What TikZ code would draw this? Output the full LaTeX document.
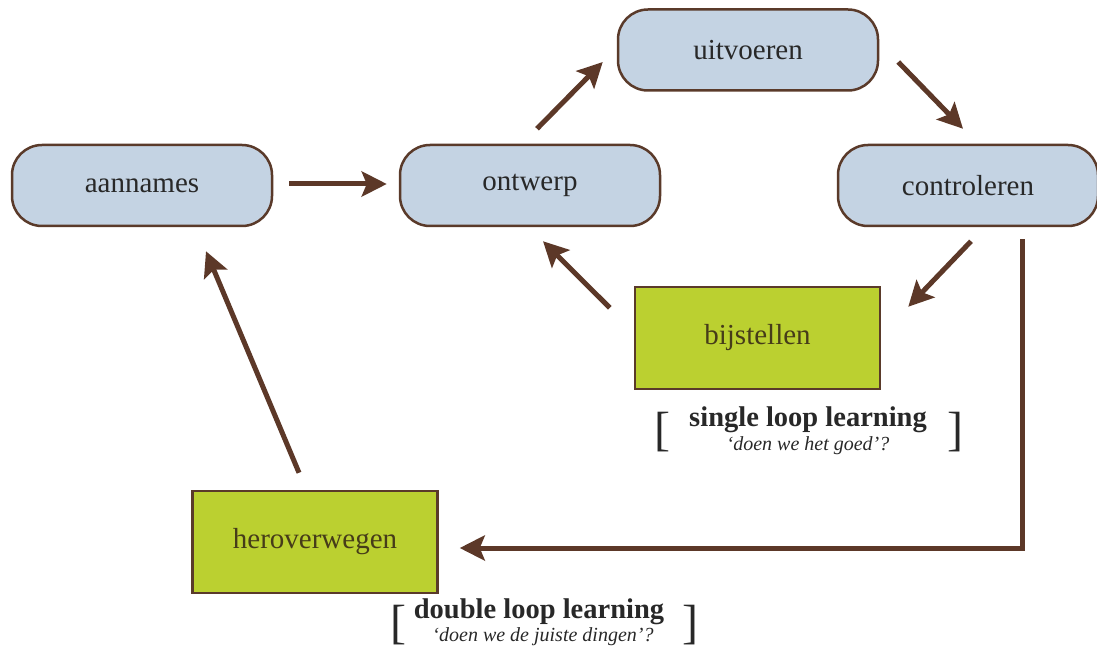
\documentclass[tikz,border=0pt]{standalone}
\usepackage{fontspec}
\setmainfont{Liberation Serif}
\usetikzlibrary{arrows.meta,calc}
\definecolor{boxblue}{RGB}{196,211,227}
\definecolor{boxgreen}{RGB}{187,208,48}
\definecolor{edgebrown}{RGB}{90,58,42}
\definecolor{arrowbrown}{RGB}{92,56,40}
\definecolor{txtgray}{RGB}{40,40,40}
\definecolor{txtolive}{RGB}{70,60,25}
\begin{document}
\begin{tikzpicture}[x=1pt,y=1pt,
  roundbox/.style={draw=edgebrown,line width=2.5pt,fill=boxblue,rounded corners=30pt,
    minimum width=260pt,minimum height=81pt,inner sep=0pt,text=txtgray,
    font=\fontsize{29}{34}\selectfont},
  greenbox/.style={draw=edgebrown,line width=2.5pt,fill=boxgreen,
    minimum width=245pt,minimum height=102pt,inner sep=0pt,text=txtolive,
    font=\fontsize{29}{34}\selectfont},
  flow/.style={draw=arrowbrown,line width=5pt,
    -{Stealth[length=25pt,width=25pt,inset=5pt]}},
  looptitle/.style={inner sep=0pt,text=txtgray,font=\bfseries\fontsize{28.5}{32}\selectfont},
  loopsub/.style={inner sep=0pt,text=txtgray,font=\itshape\fontsize{20}{24}\selectfont},
  bracket/.style={inner sep=0pt,text=txtgray,font=\fontsize{48}{52}\selectfont}]
\useasboundingbox (0,0) rectangle (1097,657);
\node[roundbox] (aannames) at (142,471.5) {aannames};
\node[roundbox] (ontwerp) at (530,471.5) {ontwerp};
\node[roundbox] (uitvoeren) at (748,607) {uitvoeren};
\node[roundbox] (controleren) at (968,471.5) {controleren};
\node[greenbox] (bijstellen) at (757.5,319) {bijstellen};
\node[greenbox] (heroverwegen) at (315,115) {heroverwegen};
% labels
\node[looptitle] (singletitle) at (808,237) {single loop learning};
\node[loopsub] (singlesub) at (808,211) {‘doen we het goed’?};
\node[bracket] (singleL) at (662,225) {[};
\node[bracket] (singleR) at (955,225) {]};
\node[looptitle] (doubletitle) at (539,45) {double loop learning};
\node[loopsub] (doublesub) at (543,20) {‘doen we de juiste dingen’?};
\node[bracket] (doubleL) at (398,32) {[};
\node[bracket] (doubleR) at (690,32) {]};
% connectors
\draw[flow] ($(aannames.east)+(16,1.5)$) -- ($(ontwerp.west)+(-12,1.5)$);
\draw[flow] ($(ontwerp.north)+(7,15)$) -- ($(uitvoeren.west)+(-14,-12)$);
\draw[flow] ($(uitvoeren.east)+(19,-12)$) -- ($(controleren.north)+(-5,15)$);
\draw[flow] ($(controleren.south)+(3,-14)$) -- ($(bijstellen.north east)+(27,-21)$);
\draw[flow] ($(bijstellen.north west)+(-24,-22)$) -- ($(ontwerp.south)+(13,-14)$);
\draw[flow] ($(controleren.south)+(54,-12)$) |- ($(heroverwegen.east)+(21,-6)$);
\draw[flow] ($(heroverwegen.north)+(-16,17)$) -- ($(aannames.south)+(64,-24)$);
\end{tikzpicture}
\end{document}
